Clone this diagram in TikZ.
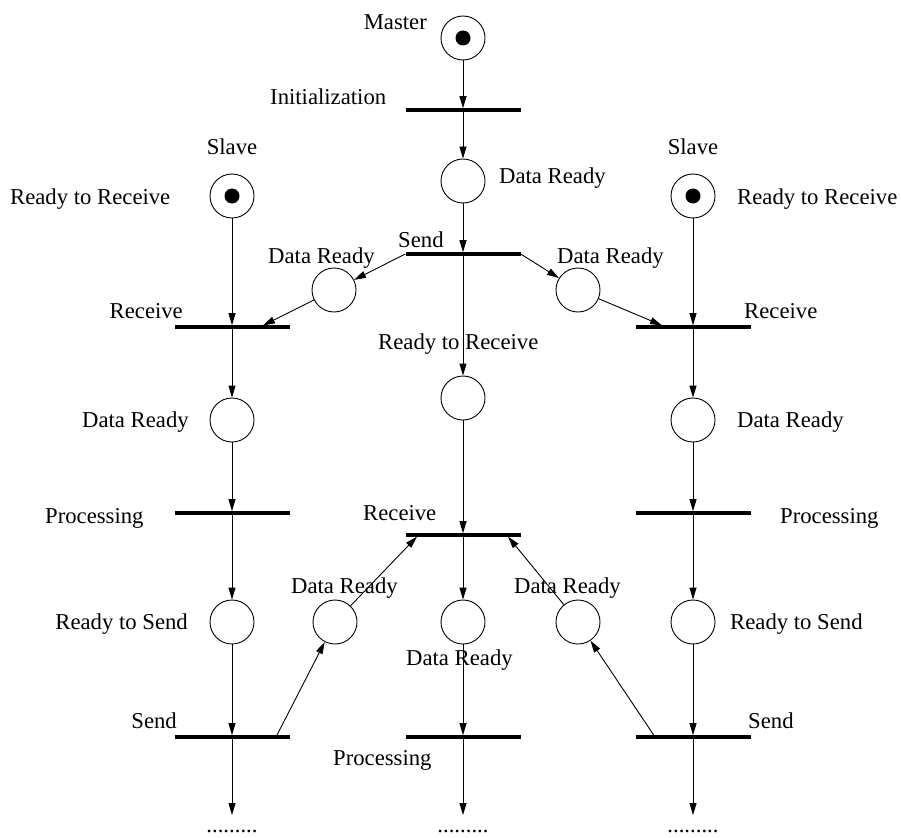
\documentclass[tikz,border=0pt]{standalone}
\usepackage{fontspec}
\setmainfont{Liberation Serif}
\usetikzlibrary{arrows.meta}
\begin{document}
\begin{tikzpicture}[x=1pt,y=-1pt,
  place/.style={circle,draw,line width=0.9pt,minimum size=44pt,inner sep=0pt},
  trans/.style={rectangle,fill=black,minimum width=115pt,minimum height=3.2pt,inner sep=0pt},
  token/.style={circle,fill=black,minimum size=15pt,inner sep=0pt},
  lbl/.style={inner sep=0pt,font=\fontsize{22.7pt}{27pt}\selectfont},
  arc/.style={line width=0.9pt,-{Triangle[length=12pt,width=7pt]}}]
\useasboundingbox (0,0) rectangle (901,837);

% master process
\node[place] (master) at (463,38) {};
\node[token] (mtok) at (master.center) {};
\node[trans] (init) at (463,110) {};
\node[place] (mready) at (463,181) {};
\node[trans] (msend) at (463,254) {};
\node[place] (mrtr) at (463,398) {};
\node[trans] (mrecv) at (463,535) {};
\node[place] (mdata) at (463,622) {};
\node[trans] (mproc) at (463,737) {};

% messages
\node[place] (ldr) at (334,290) {};
\node[place] (rdr) at (578,290) {};
\node[place] (lout) at (335,622) {};
\node[place] (rout) at (578,622) {};

% left slave
\node[place] (lslave) at (232,196) {};
\node[token] (ltok) at (lslave.center) {};
\node[trans] (lrecv) at (232,327) {};
\node[place] (ldata) at (232,420) {};
\node[trans] (lproc) at (232,513) {};
\node[place] (lrts) at (232,622) {};
\node[trans] (lsend) at (232,737) {};

% right slave
\node[place] (rslave) at (693,196) {};
\node[token] (rtok) at (rslave.center) {};
\node[trans] (rrecv) at (693,327) {};
\node[place] (rdata) at (693,420) {};
\node[trans] (rproc) at (693,513) {};
\node[place] (rrts) at (693,622) {};
\node[trans] (rsend) at (693,737) {};

% free ends of connectors
\coordinate (lrecvin) at (263,325.4);
\coordinate (rrecvin) at (662,325.4);
\coordinate (lsendout) at (276,737);
\coordinate (rsendout) at (655,737);
\coordinate (mrecvl) at (417,536.6);
\coordinate (mrecvr) at (508,536.6);
\coordinate (lend) at (232,815);
\coordinate (mend) at (463,815);
\coordinate (rend) at (693,815);

% master connectors
\draw[arc] (master) -- (init);
\draw[arc] (init) -- (mready);
\draw[arc] (mready) -- (msend);
\draw[arc] (msend) -- (mrtr);
\draw[arc] (mrtr) -- (mrecv);
\draw[arc] (mrecv) -- (mdata);
\draw[arc] (mdata) -- (mproc);
\draw[arc] (mproc) -- (mend);

% message connectors
\draw[arc] (msend.west) -- (ldr);
\draw[arc] (msend.east) -- (rdr);
\draw[arc] (ldr) -- (lrecvin);
\draw[arc] (rdr) -- (rrecvin);
\draw[arc] (lsendout) -- (lout);
\draw[arc] (rsendout) -- (rout);
\draw[arc] (lout) -- (mrecvl);
\draw[arc] (rout) -- (mrecvr);

% left slave connectors
\draw[arc] (lslave) -- (lrecv);
\draw[arc] (lrecv) -- (ldata);
\draw[arc] (ldata) -- (lproc);
\draw[arc] (lproc) -- (lrts);
\draw[arc] (lrts) -- (lsend);
\draw[arc] (lsend) -- (lend);

% right slave connectors
\draw[arc] (rslave) -- (rrecv);
\draw[arc] (rrecv) -- (rdata);
\draw[arc] (rdata) -- (rproc);
\draw[arc] (rproc) -- (rrts);
\draw[arc] (rrts) -- (rsend);
\draw[arc] (rsend) -- (rend);

% labels
\node[lbl,anchor=base east] (tmaster) at (427,30) {Master};
\node[lbl,anchor=base west] (tinit) at (270,105) {Initialization};
\node[lbl,anchor=base west] (tmready) at (499,183) {Data Ready};
\node[lbl,anchor=base] (tlslave) at (232,155) {Slave};
\node[lbl,anchor=base] (trslave) at (693,155) {Slave};
\node[lbl,anchor=base west] (tlrtr) at (10,204) {Ready to Receive};
\node[lbl,anchor=base west] (trrtr) at (737,204) {Ready to Receive};
\node[lbl,anchor=base west] (tmsend) at (398,247) {Send};
\node[lbl,anchor=base] (tldr) at (321.5,263) {Data Ready};
\node[lbl,anchor=base west] (trdr) at (557,263) {Data Ready};
\node[lbl,anchor=base east] (tlrecv) at (183,318) {Receive};
\node[lbl,anchor=base west] (trrecv) at (744,318) {Receive};
\node[lbl,anchor=base west] (tmrtr) at (378,349) {Ready to Receive};
\node[lbl,anchor=base west] (tldata) at (82,427) {Data Ready};
\node[lbl,anchor=base west] (trdata) at (737,427) {Data Ready};
\node[lbl,anchor=base west] (tlproc) at (45,523) {Processing};
\node[lbl,anchor=base west] (trproc) at (780,523) {Processing};
\node[lbl,anchor=base west] (tmrecv) at (363,520) {Receive};
\node[lbl,anchor=base west] (tlout) at (291,593) {Data Ready};
\node[lbl,anchor=base west] (trout) at (514,593) {Data Ready};
\node[lbl,anchor=base west] (tmdata) at (406,665) {Data Ready};
\node[lbl,anchor=base east] (tlrts) at (188,629) {Ready to Send};
\node[lbl,anchor=base west] (trrts) at (730,629) {Ready to Send};
\node[lbl,anchor=base east] (tlsend) at (177,728) {Send};
\node[lbl,anchor=base west] (trsend) at (748,728) {Send};
\node[lbl,anchor=base west] (tmproc) at (333,765) {Processing};
\node[lbl,anchor=base] (ldots) at (232,832) {.........};
\node[lbl,anchor=base] (mdots) at (463,832) {.........};
\node[lbl,anchor=base] (rdots) at (693,832) {.........};
\end{tikzpicture}
\end{document}
